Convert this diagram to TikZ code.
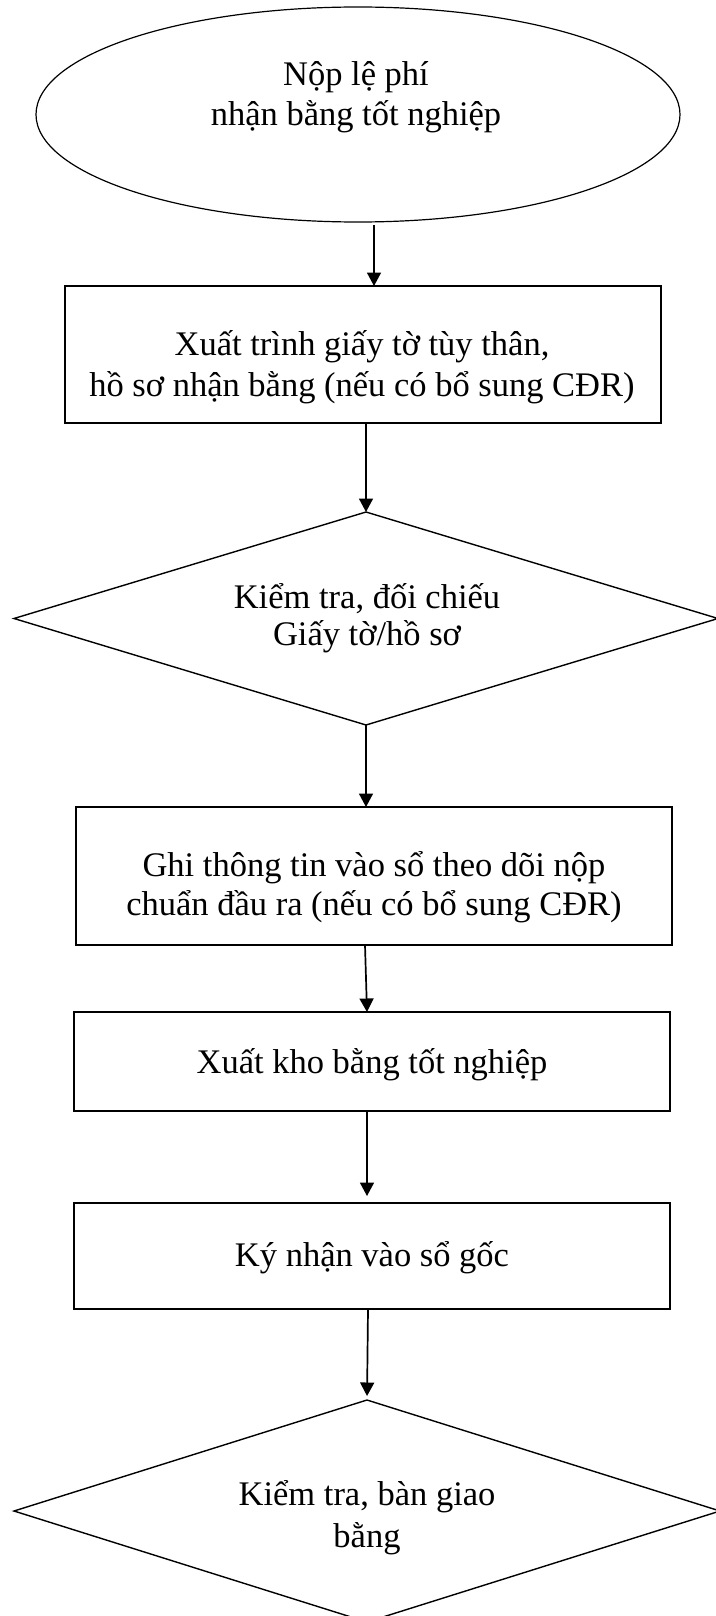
\documentclass[tikz,border=0pt]{standalone}
\usepackage{fontspec}
\setmainfont{Liberation Serif}
\usetikzlibrary{arrows.meta,shapes.geometric}
\begin{document}
\begin{tikzpicture}[x=1pt,y=-1pt,
  shp/.style={draw=black, line width=1.4pt, inner sep=0pt, outer sep=0pt},
  boxnode/.style={shp, rectangle, line width=1.9pt, minimum width=596pt},
  txt/.style={font=\fontsize{34.5}{41}\selectfont, anchor=base, inner sep=0pt},
  arr/.style={line width=1.7pt, -{Triangle[length=13.5pt,width=14pt]}}]
\useasboundingbox (0,0) rectangle (715,1616);
% shapes
\node[shp, ellipse, line width=1.2pt, minimum width=644pt, minimum height=215pt] (ell) at (358,114.5) {};
\node[boxnode, minimum height=137pt] (b1) at (363,354.5) {};
\node[shp, diamond, minimum width=704pt, minimum height=213pt] (d1) at (366,618.5) {};
\node[boxnode, minimum height=138pt] (b2) at (374,876) {};
\node[boxnode, minimum height=99pt] (b3) at (372,1061.5) {};
\node[boxnode, minimum height=106pt] (b4) at (372,1256) {};
\node[shp, diamond, minimum width=706pt, minimum height=222pt] (d2) at (367,1511) {};
% texts
\node[txt] (t1a) at (356,86) {Nộp lệ phí};
\node[txt] (t1b) at (356,126) {nhận bằng tốt nghiệp};
\node[txt] (t2a) at (362,355) {Xuất trình giấy tờ tùy thân,};
\node[txt] (t2b) at (362,396) {hồ sơ nhận bằng (nếu có bổ sung CĐR)};
\node[txt] (t3a) at (367,608) {Kiểm tra, đối chiếu};
\node[txt] (t3b) at (367,645) {Giấy tờ/hồ sơ};
\node[txt] (t4a) at (374,876) {Ghi thông tin vào sổ theo dõi nộp};
\node[txt] (t4b) at (374,915) {chuẩn đầu ra (nếu có bổ sung CĐR)};
\node[txt] (t5) at (372,1073) {Xuất kho bằng tốt nghiệp};
\node[txt] (t6) at (372,1266) {Ký nhận vào sổ gốc};
\node[txt] (t7a) at (367,1505) {Kiểm tra, bàn giao};
\node[txt] (t7b) at (367,1547) {bằng};
% connectors
\draw[arr] ([xshift=16pt,yshift=-3pt]ell.south) -- ([xshift=11pt]b1.north);
\draw[arr] ([xshift=3pt]b1.south) -- (d1.north);
\draw[arr] (d1.south) -- ([xshift=-8pt]b2.north);
\draw[arr] ([xshift=-9pt]b2.south) -- ([xshift=-5pt]b3.north);
\draw[arr, shorten >=7pt] ([xshift=-5pt]b3.south) -- ([xshift=-5pt]b4.north);
\draw[arr, shorten >=4pt] ([xshift=-4pt]b4.south) -- (d2.north);
\end{tikzpicture}
\end{document}
